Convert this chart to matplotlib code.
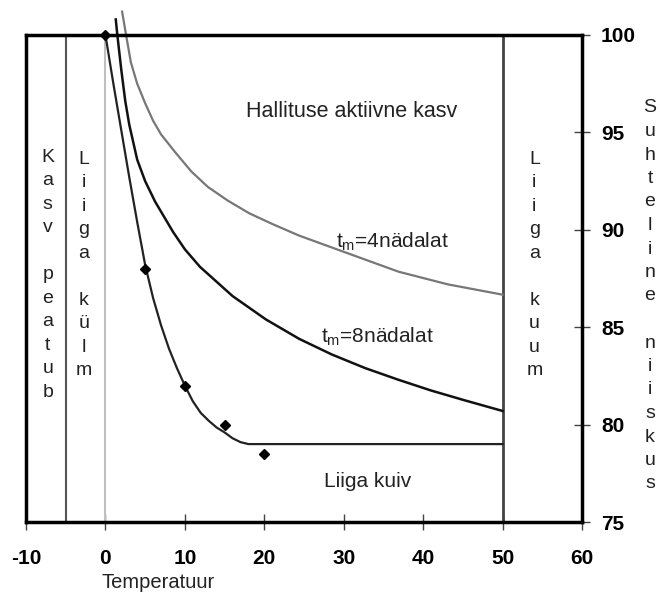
import numpy as np
import matplotlib
matplotlib.use('Agg')
import matplotlib.pyplot as plt
matplotlib.rcParams.update({'font.family': ['Liberation Sans', 'DejaVu Sans'], 'font.size': 14,
                            'axes.unicode_minus': False})

# curve for t_m = 4 weeks (grey)
t4_temp = [2.1, 2.6, 3.2, 4.0, 5.0, 6.0, 7.0, 8.75, 10.8, 12.9, 15.4, 18.1, 21.0, 24.4, 29.8, 36.9, 43.1, 50.0]
t4_rh = [101.2, 100.0, 98.6, 97.5, 96.5, 95.6, 94.9, 94.0, 93.0, 92.2, 91.5, 90.85, 90.3, 89.7, 88.9, 87.85, 87.2, 86.67]

# curve for t_m = 8 weeks (black)
t8_temp = [1.3, 1.5, 2.0, 2.5, 3.0, 4.0, 5.0, 6.25, 8.5, 10.0, 11.9, 16.0, 20.2, 24.4, 28.5, 32.7, 36.9, 41.0, 45.2, 50.0]
t8_rh = [100.8, 100.0, 98.2, 96.6, 95.4, 93.6, 92.5, 91.45, 89.9, 89.0, 88.1, 86.6, 85.4, 84.4, 83.6, 82.9, 82.3, 81.75, 81.25, 80.7]

# lower limit curve (fitted through the measured points)
lim_temp = [0, 1, 2, 3, 4, 5, 6, 7, 8, 9, 10, 11, 12, 13, 14, 15, 16, 17, 18, 50]
lim_rh = [100, 97.5, 95.1, 92.7, 90.4, 88.2, 86.5, 85.1, 83.9, 82.9, 82.0, 81.2, 80.6, 80.2, 79.85, 79.6, 79.3, 79.1, 79.0, 79.0]

# measured points
pts_temp = [0, 5, 10, 15, 20]
pts_rh = [100, 88, 82, 80, 78.5]

xticks = [-10, 0, 10, 20, 30, 40, 50, 60]
yticks = [75, 80, 85, 90, 95, 100]

fig = plt.figure(figsize=(6.6, 5.94), dpi=100)
ax = fig.add_axes([26/660, 1-522/594, (582-26)/660, (522-35)/594])

ax.set_xlim(-10, 60)
ax.set_ylim(75, 100)

# zone borders
ax.plot([-5, -5], [75, 100], color='#555555', lw=1.5)
ax.plot([0, 0], [75, 100], color='#c0c0c0', lw=1.5)
ax.plot([50, 50], [75, 100], color='#444444', lw=2)

ax.plot(t4_temp, t4_rh, color='#777777', lw=1.6, clip_on=False)
ax.plot(t8_temp, t8_rh, color='#111111', lw=1.8, clip_on=False)
ax.plot(lim_temp, lim_rh, color='#222222', lw=1.6, clip_on=False)
ax.plot(pts_temp, pts_rh, 'D', color='black', markersize=5, clip_on=False)

# text labels
ax.text(31, 96.05, 'Hallituse aktiivne kasv', ha='center', va='center', fontsize=15.5, color='#222222')
ax.text(36.1, 89.4, r'$\mathregular{t_m}$=4nädalat', ha='center', va='center', fontsize=15, color='#222222')
ax.text(34.2, 84.5, r'$\mathregular{t_m}$=8nädalat', ha='center', va='center', fontsize=15, color='#222222')
ax.text(33, 77.1, 'Liiga kuiv', ha='center', va='center', fontsize=15, color='#222222')

def stack(s):
    return '\n'.join(s)

ax.text(-7.25, 87.7, stack('Kasv peatub'), ha='center', va='center', fontsize=14, color='#222222', linespacing=1.5)
ax.text(-2.75, 88.2, stack('Liiga külm'), ha='center', va='center', fontsize=14, color='#222222', linespacing=1.5)
ax.text(54, 88.2, stack('Liiga kuum'), ha='center', va='center', fontsize=14, color='#222222', linespacing=1.5)
fig.text(650/660, 1-296/594, stack('Suhteline niiskus'), ha='center', va='center', fontsize=14, color='#222222', linespacing=1.5)

for s in ax.spines.values():
    s.set_linewidth(2.5)
    s.set_color('black')

ax.set_xticks(xticks)
ax.set_yticks(yticks)
ax.yaxis.tick_right()
ax.tick_params(axis='both', direction='inout', length=11.5, width=1, color='#444444', labelsize=15)
ax.tick_params(axis='y', pad=8)
ax.tick_params(axis='x', pad=14)
for lbl in ax.get_xticklabels() + ax.get_yticklabels():
    lbl.set_fontweight('bold')

fig.text(158/660, 1-588/594, 'Temperatuur', ha='center', va='baseline', fontsize=14.5, color='#222222')

fig.savefig('out.png', dpi=100)
